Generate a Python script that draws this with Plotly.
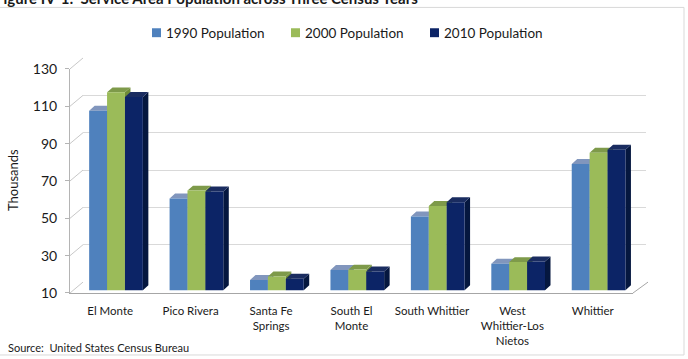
import plotly.graph_objects as go

# ---------------- data ----------------
categories = ["El Monte", "Pico Rivera", "Santa Fe<br>Springs", "South El<br>Monte",
              "South Whittier", "West<br>Whittier-Los<br>Nietos", "Whittier"]
series_names = ["1990 Population", "2000 Population", "2010 Population"]
pop_1990 = [106.2, 59.2, 15.5, 20.9, 49.5, 24.2, 77.7]
pop_2000 = [116.0, 63.4, 17.4, 21.1, 55.2, 25.1, 83.7]
pop_2010 = [113.5, 62.9, 16.2, 20.1, 57.2, 25.5, 85.3]
y_ticks = [10, 30, 50, 70, 90, 110, 130]
title_text = "Figure IV-1:  Service Area Population across Three Census Years"
source_text = "Source:  United States Census Bureau"
y_title = "Thousands"

# ---------------- styling ----------------
front_colors = ["#4F81BD", "#9BBB59", "#0C2466"]
top_colors = ["#8196BD", "#7E9A4A", "#1A2C60"]
side_colors = ["#3B6498", "#6F8C38", "#05173F"]
FONT = "Lato"
TXT = "#1a1a1a"

W, H = 688, 359
ML, MR, MT, MB = 70, 40, 58, 64
PW, PH = W - ML - MR, H - MT - MB          # plot area in px
FRONT_W, FRONT_H = 563, 226                # front axis extent in px
BACK_DX, BACK_DY = 13, 11                  # back wall offset
BAR_DX, BAR_DY = 5.8, 2.7                  # bar plane offset
XR = [-0.5, 6.5]
YR = [10, 130]
px_per_x = FRONT_W / (XR[1] - XR[0])
px_per_y = FRONT_H / (YR[1] - YR[0])
DEPTH_DX = 5.5 / px_per_x                  # bar depth in data units
DEPTH_DY = 5.0 / px_per_y
BAR_W = 17.9 / px_per_x

def px_x(p):  # pixel x -> paper
    return (p - ML) / PW

def px_y(p):  # pixel y (from top) -> paper
    return (H - MB - p) / PH

fig = go.Figure()
series = [pop_1990, pop_2000, pop_2010]
n = len(categories)
xs = list(range(n))

# faces (top + side) on subplot x3/y3
for s, vals in enumerate(series):
    sx, sy, tx, ty = [], [], [], []
    for i, v in enumerate(vals):
        x0 = i + (s - 1.5) * BAR_W
        x1 = x0 + BAR_W
        sx += [x1, x1, x1 + DEPTH_DX, x1 + DEPTH_DX, x1, None]
        sy += [YR[0], v, v + DEPTH_DY, YR[0] + DEPTH_DY, YR[0], None]
        tx += [x0, x1, x1 + DEPTH_DX, x0 + DEPTH_DX, x0, None]
        ty += [v, v, v + DEPTH_DY, v + DEPTH_DY, v, None]
    fig.add_trace(go.Scatter(x=sx, y=sy, fill="toself", fillcolor=side_colors[s],
                             line=dict(width=0), mode="lines", showlegend=False,
                             hoverinfo="skip", xaxis="x3", yaxis="y3"))
    fig.add_trace(go.Scatter(x=tx, y=ty, fill="toself", fillcolor=top_colors[s],
                             line=dict(width=0), mode="lines", showlegend=False,
                             hoverinfo="skip", xaxis="x3", yaxis="y3"))

# front faces as bars on subplot x4/y4
for s, vals in enumerate(series):
    fig.add_trace(go.Bar(x=xs, y=vals, name=series_names[s], width=BAR_W,
                         offset=(s - 1.5) * BAR_W,
                         marker=dict(color=front_colors[s], line=dict(width=0)),
                         xaxis="x4", yaxis="y4", hoverinfo="skip", showlegend=False))

# dummy traces for front axis subplot and back wall
fig.add_trace(go.Scatter(x=[None], y=[None], showlegend=False, xaxis="x", yaxis="y"))
fig.add_trace(go.Scatter(x=[None], y=[None], showlegend=False, xaxis="x2", yaxis="y2"))

front_xd = [0, FRONT_W / PW]
front_yd = [0, FRONT_H / PH]
back_xd = [BACK_DX / PW, (BACK_DX + FRONT_W) / PW]
back_yd = [BACK_DY / PH, (BACK_DY + FRONT_H) / PH]
bar_xd = [BAR_DX / PW, (BAR_DX + FRONT_W) / PW]
bar_yd = [BAR_DY / PH, (BAR_DY + FRONT_H) / PH]

hidden = dict(showgrid=False, zeroline=False, showticklabels=False, showline=False, ticks="", fixedrange=True)

fig.update_layout(
    width=W, height=H, margin=dict(l=ML, r=MR, t=MT, b=MB),
    paper_bgcolor="white", plot_bgcolor="rgba(0,0,0,0)",
    font=dict(family=FONT, color=TXT),
    barmode="overlay", showlegend=False,
    xaxis=dict(domain=front_xd, range=XR, anchor="y", tickmode="array", tickvals=xs,
               ticktext=categories, showgrid=False, zeroline=False, showline=True,
               linecolor="#A6A6A6", linewidth=1, ticks="outside", ticklen=7,
               tickcolor="rgba(0,0,0,0)", tickfont=dict(size=11.5, family=FONT, color=TXT)),
    yaxis=dict(domain=front_yd, range=YR, anchor="x", tickmode="array", tickvals=y_ticks,
               showgrid=False, zeroline=False, showline=True, linecolor="#B4B4B4",
               ticks="outside", ticklen=4, tickcolor="#B4B4B4", ticklabelstandoff=5,
               tickfont=dict(size=14, family=FONT, color=TXT)),
    xaxis2=dict(domain=back_xd, range=XR, anchor="y2", **hidden),
    yaxis2=dict(domain=back_yd, range=YR, anchor="x2", tickmode="array", tickvals=y_ticks,
                showgrid=True, gridcolor="#D9D9D9", gridwidth=1.3, zeroline=False,
                showticklabels=False, showline=False, ticks="", fixedrange=True),
    xaxis3=dict(domain=bar_xd, range=XR, anchor="y3", **hidden),
    yaxis3=dict(domain=bar_yd, range=YR, anchor="x3", **hidden),
    xaxis4=dict(domain=bar_xd, range=XR, anchor="y4", **hidden),
    yaxis4=dict(domain=bar_yd, range=YR, anchor="x4", **hidden),
)

# left wall diagonal lines and floor right edge
shapes = []
for v in y_ticks:
    yp = px_y(H - MB - (v - YR[0]) * px_per_y)
    shapes.append(dict(type="line", xref="paper", yref="paper", x0=0, y0=yp,
                       x1=BACK_DX / PW, y1=yp + BACK_DY / PH,
                       line=dict(color="#C8C8C8", width=1)))
shapes.append(dict(type="line", xref="paper", yref="paper", x0=FRONT_W / PW, y0=0,
                   x1=(FRONT_W + BACK_DX + 2) / PW, y1=BACK_DY / PH,
                   line=dict(color="#A6A6A6", width=1)))
# chart border
shapes.append(dict(type="rect", xref="paper", yref="paper", x0=px_x(-2), x1=px_x(684),
                   y0=px_y(357.5), y1=px_y(7), line=dict(color="#D9D9D9", width=1),
                   fillcolor="rgba(0,0,0,0)", layer="below"))

# legend (swatch + label), laid out left to right
legend_left = [152, 291, 430]
for s, name in enumerate(series_names):
    lx = legend_left[s]
    shapes.append(dict(type="rect", xref="paper", yref="paper",
                       x0=px_x(lx), x1=px_x(lx + 9), y0=px_y(37), y1=px_y(28),
                       fillcolor=front_colors[s], line=dict(width=0)))
    fig.add_annotation(text=name, xref="paper", yref="paper", x=px_x(lx + 12), y=px_y(32.5),
                       xanchor="left", yanchor="middle", showarrow=False,
                       font=dict(size=13.5, family=FONT, color=TXT))
fig.update_layout(shapes=shapes)

fig.add_annotation(text="<b>" + title_text + "</b>", xref="paper", yref="paper",
                   x=px_x(-7), y=px_y(-3), xanchor="left", yanchor="middle", showarrow=False,
                   font=dict(size=15, family=FONT, color=TXT))
fig.add_annotation(text=source_text, xref="paper", yref="paper", x=px_x(6), y=px_y(350),
                   xanchor="left", yanchor="middle", showarrow=False,
                   font=dict(size=11, family=FONT, color=TXT))
fig.add_annotation(text=y_title, xref="paper", yref="paper", x=px_x(13), y=px_y(181),
                   xanchor="center", yanchor="middle", textangle=-90, showarrow=False,
                   font=dict(size=13, family=FONT, color=TXT))

fig.write_html("out.html", config={"displayModeBar": False})
